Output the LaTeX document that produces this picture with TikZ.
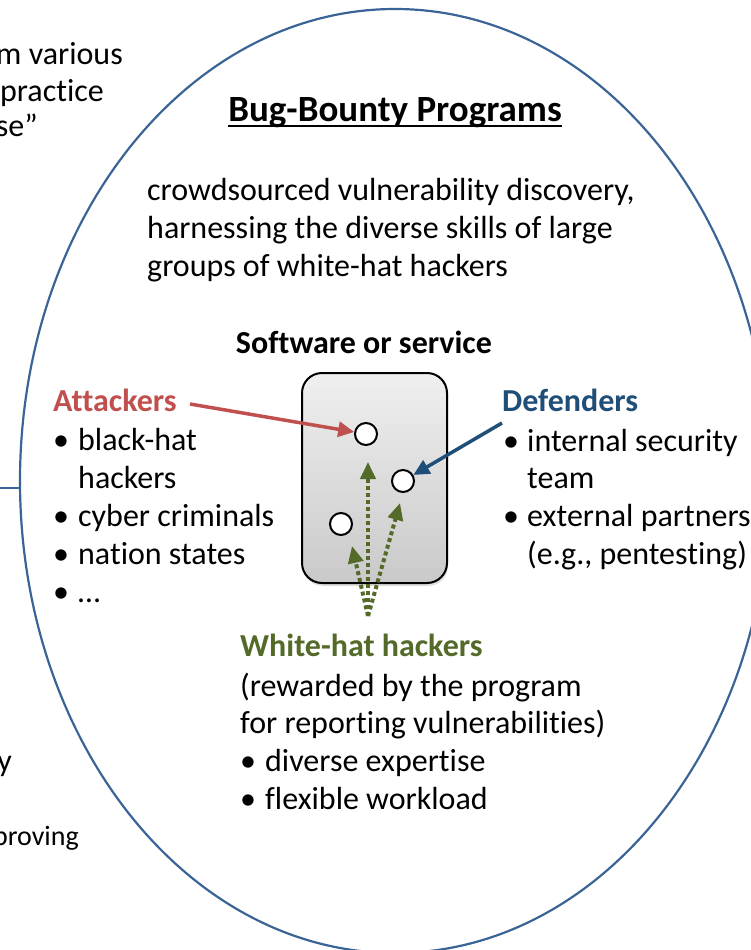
\documentclass[tikz,border=0pt]{standalone}
\usepackage{fontspec}
\setmainfont{Carlito}[Ligatures=NoCommon]
\usetikzlibrary{shapes.geometric,arrows.meta,shadows,calc}

\definecolor{rimblue}{RGB}{58,100,150}
\definecolor{atkred}{RGB}{192,80,77}
\definecolor{defblue}{RGB}{31,78,121}
\definecolor{whgreen}{RGB}{84,106,40}

\tikzset{
  txt/.style={font=\fontsize{32}{38}\selectfont, inner sep=0pt},
  boldtxt/.style={txt, font=\fontsize{32}{38}\selectfont\bfseries},
  titletxt/.style={inner sep=0pt, font=\fontsize{37}{44}\selectfont\bfseries},
  spot/.style={circle, draw=black, fill=white, line width=2pt, minimum size=22pt, inner sep=0pt},
  redarrow/.style={draw=atkred, line width=3.5pt, -{Triangle[length=16pt,width=15pt]}},
  bluearrow/.style={draw=defblue, line width=3.5pt, -{Triangle[length=16pt,width=15pt]}},
  greenarrow/.style={draw=whgreen, line width=4pt, dash pattern=on 4pt off 3pt, -{Triangle[length=17pt,width=15pt]}},
}

\newcommand{\bul}[1]{\makebox[#1][l]{•}}

\begin{document}
\begin{tikzpicture}[x=1pt, y=-1pt]
\useasboundingbox (0,0) rectangle (750,950);

% program ellipse and its link to the left
\node[ellipse, draw=rimblue, line width=2.2pt, minimum width=750pt, minimum height=944pt, inner sep=0pt] (bbp) at (395,481) {};
\coordinate (lnk) at (-5,488);
\draw[rimblue, line width=2pt] (lnk) -- (lnk -| bbp.west);

% text on the left margin
\node[txt, anchor=mid east] (l1) at (123,62) {m various};
\node[txt, anchor=mid east] (l2) at (104,99) {practice};
\node[txt, anchor=mid east] (l3) at (38,134) {se”};
\node[txt, anchor=mid east] (l4) at (12,769) {y};
\node[txt, font=\fontsize{28}{34}\selectfont, anchor=mid east] (l5) at (79,843) {proving};

% title and description
\node[titletxt, anchor=mid] (ttl) at (395,119) {Bug-Bounty Programs};
\draw[line width=2pt] ($(ttl.base west)+(0,5)$) -- ($(ttl.base east)+(0,5)$);
\node[txt, anchor=mid west] (d1) at (147,198) {crowdsourced vulnerability discovery,};
\node[txt, anchor=mid west] (d2) at (147,236) {harnessing the diverse skills of large};
\node[txt, anchor=mid west] (d3) at (147,274) {groups of white-hat hackers};

% software box
\node[boldtxt, anchor=mid] (sw) at (364,351) {Software or service};
\node[draw=black, line width=2pt, rounded corners=20pt, minimum width=145pt, minimum height=210pt,
      top color=gray!12, bottom color=gray!42,
      drop shadow={opacity=0.25, shadow xshift=1pt, shadow yshift=-3pt}] (box) at (374.5,478) {};
\node[spot] (c1) at (366,434) {};
\node[spot] (c2) at (403,481) {};
\node[spot] (c3) at (341,524) {};

% attackers
\node[boldtxt, text=atkred, anchor=mid west] (atk) at (53,409) {Attackers};
\node[txt, anchor=mid west] (a1) at (53,448) {\bul{25pt}black-hat};
\node[txt, anchor=mid west] (a2) at (78,486) {hackers};
\node[txt, anchor=mid west] (a3) at (53,524) {\bul{25pt}cyber criminals};
\node[txt, anchor=mid west] (a4) at (53,562) {\bul{25pt}nation states};
\node[txt, anchor=mid west] (a5) at (53,600) {\bul{25pt}…};
\coordinate (redstart) at (190,404);
\draw[redarrow] (redstart) -- (c1);

% defenders
\node[boldtxt, text=defblue, anchor=mid west] (def) at (502,409) {Defenders};
\node[txt, anchor=mid west] (e1) at (503,449) {\bul{24pt}internal security};
\node[txt, anchor=mid west] (e2) at (527,486) {team};
\node[txt, anchor=mid west] (e3) at (503,524) {\bul{24pt}external partners};
\node[txt, anchor=mid west] (e4) at (527,562) {(e.g., pentesting)};
\coordinate (bluestart) at (502,423);
\draw[bluearrow] (bluestart) -- (c2);

% white-hat hackers
\node[boldtxt, text=whgreen, anchor=mid west] (wh) at (240,654) {White-hat hackers};
\node[txt, anchor=mid west] (w1) at (240,694) {(rewarded by the program};
\node[txt, anchor=mid west] (w2) at (240,731) {for reporting vulnerabilities)};
\node[txt, anchor=mid west] (w3) at (240,769) {\bul{25pt}diverse expertise};
\node[txt, anchor=mid west] (w4) at (240,807) {\bul{25pt}flexible workload};
\coordinate (gsrc) at (368,616);
\coordinate (g1) at (368,462);
\coordinate (g2) at (400,503);
\coordinate (g3) at (352,546);
\draw[greenarrow] (gsrc) -- (g1);
\draw[greenarrow] (gsrc) -- (g2);
\draw[greenarrow] (gsrc) -- (g3);
\end{tikzpicture}
\end{document}
